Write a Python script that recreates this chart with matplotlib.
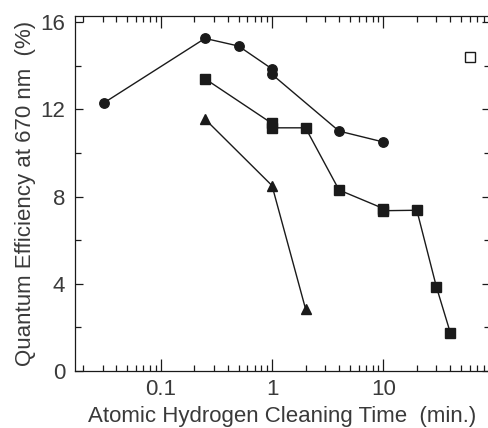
import matplotlib
matplotlib.use("Agg")
import matplotlib.pyplot as plt
from matplotlib.ticker import LogLocator, MultipleLocator, FixedLocator, NullFormatter

plt.rcParams['font.family'] = ['Liberation Sans', 'DejaVu Sans']

# data (time in min, QE in %)
circ_t = [0.031, 0.25, 0.5, 1, 1, 4, 10]
circ_qe = [12.3, 15.25, 14.9, 13.85, 13.6, 11.0, 10.5]
sq_t = [0.25, 1, 1, 2, 4, 10, 10, 20, 30, 40]
sq_qe = [13.4, 11.35, 11.15, 11.15, 8.3, 7.45, 7.35, 7.37, 3.85, 1.75]
tri_t = [0.25, 1, 2]
tri_qe = [11.55, 8.5, 2.85]
open_t = [60]
open_qe = [14.4]
yticks = [0, 4, 8, 12, 16]
xticks = [0.1, 1, 10]
xticklabels = ['0.1', '1', '10']

tc = '#3a3a3a'
lc = '#1a1a1a'

fig = plt.figure(figsize=(4.88, 4.28), dpi=100)
ax = fig.add_axes([75/488, 57/428, (489.5-75)/488, (371-15.5)/428])

ax.plot(circ_t, circ_qe, '-o', color=lc, lw=1.0, ms=6.8, clip_on=False)
ax.plot(sq_t, sq_qe, '-s', color=lc, lw=1.0, ms=7.2, clip_on=False)
ax.plot(tri_t, tri_qe, '-^', color=lc, lw=1.0, ms=7.0, clip_on=False)
ax.plot(open_t, open_qe, 's', mfc='white', mec=lc, mew=1.0, ms=7, clip_on=False)

ax.set_xscale('log')
ax.set_xlim(0.01698, 89.9)
ax.set_ylim(0, 16.3)

ax.xaxis.set_major_locator(FixedLocator(xticks))
ax.set_xticklabels(xticklabels)
ax.xaxis.set_minor_locator(LogLocator(base=10, subs=range(2, 10)))
ax.xaxis.set_minor_formatter(NullFormatter())
ax.yaxis.set_major_locator(FixedLocator(yticks))
ax.yaxis.set_minor_locator(MultipleLocator(2))

ax.tick_params(axis='both', which='both', direction='in', top=True, right=True,
               colors=lc, labelcolor=tc, labelsize=16, width=0.9)
ax.tick_params(axis='x', which='major', length=8.5, pad=6)
ax.tick_params(axis='y', which='major', length=6, pad=7)
ax.tick_params(axis='both', which='minor', length=4)
for s in ax.spines.values():
    s.set_color(lc)
    s.set_linewidth(0.9)

ax.set_xlabel('Atomic Hydrogen Cleaning Time  (min.)', fontsize=16, color=tc, labelpad=4)
ax.set_ylabel('Quantum Efficiency at 670 nm  (%)', fontsize=16, color=tc, labelpad=3)

fig.savefig('out.png', dpi=100)
